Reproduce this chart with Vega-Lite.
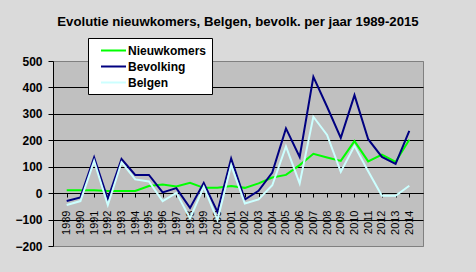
{
  "$schema": "https://vega.github.io/schema/vega-lite/v6.json",
  "width": 370,
  "height": 185,
  "autosize": {"type": "none"},
  "padding": {"left": 53, "top": 61, "right": 53, "bottom": 26},
  "background": "#dadada",
  "title": {
    "text": "Evolutie nieuwkomers, Belgen, bevolk. per jaar 1989-2015",
    "font": "Liberation Sans",
    "fontSize": 13.2,
    "fontWeight": "bold",
    "color": "black",
    "anchor": "middle",
    "frame": "group",
    "offset": 8
  },
  "data": {
    "values": [
      {"jaar": "1989", "Nieuwkomers": 11, "Bevolking": -30, "Belgen": -45},
      {"jaar": "1990", "Nieuwkomers": 11, "Bevolking": -16, "Belgen": -30},
      {"jaar": "1991", "Nieuwkomers": 11, "Bevolking": 135, "Belgen": 122},
      {"jaar": "1992", "Nieuwkomers": 8, "Bevolking": -22, "Belgen": -45},
      {"jaar": "1993", "Nieuwkomers": 8, "Bevolking": 129, "Belgen": 117},
      {"jaar": "1994", "Nieuwkomers": 8, "Bevolking": 69, "Belgen": 52},
      {"jaar": "1995", "Nieuwkomers": 27, "Bevolking": 69, "Belgen": 44},
      {"jaar": "1996", "Nieuwkomers": 33, "Bevolking": 3, "Belgen": -30},
      {"jaar": "1997", "Nieuwkomers": 25, "Bevolking": 19, "Belgen": 1},
      {"jaar": "1998", "Nieuwkomers": 39, "Bevolking": -56, "Belgen": -96},
      {"jaar": "1999", "Nieuwkomers": 20, "Bevolking": 39, "Belgen": 24},
      {"jaar": "2000", "Nieuwkomers": 20, "Bevolking": -71, "Belgen": -102},
      {"jaar": "2001", "Nieuwkomers": 27, "Bevolking": 131, "Belgen": 106},
      {"jaar": "2002", "Nieuwkomers": 20, "Bevolking": -24, "Belgen": -39},
      {"jaar": "2003", "Nieuwkomers": 37, "Bevolking": 9, "Belgen": -24},
      {"jaar": "2004", "Nieuwkomers": 59, "Bevolking": 78, "Belgen": 30},
      {"jaar": "2005", "Nieuwkomers": 69, "Bevolking": 245, "Belgen": 177},
      {"jaar": "2006", "Nieuwkomers": 106, "Bevolking": 137, "Belgen": 37},
      {"jaar": "2007", "Nieuwkomers": 149, "Bevolking": 440, "Belgen": 289},
      {"jaar": "2008", "Nieuwkomers": 135, "Bevolking": 327, "Belgen": 220},
      {"jaar": "2009", "Nieuwkomers": 122, "Bevolking": 209, "Belgen": 81},
      {"jaar": "2010", "Nieuwkomers": 197, "Bevolking": 371, "Belgen": 179},
      {"jaar": "2011", "Nieuwkomers": 120, "Bevolking": 204, "Belgen": 83},
      {"jaar": "2012", "Nieuwkomers": 146, "Bevolking": 137, "Belgen": -10},
      {"jaar": "2013", "Nieuwkomers": 118, "Bevolking": 111, "Belgen": -10},
      {"jaar": "2014", "Nieuwkomers": 202, "Bevolking": 236, "Belgen": 28}
    ]
  },
  "transform": [
    {"fold": ["Nieuwkomers", "Bevolking", "Belgen"], "as": ["reeks", "waarde"]}
  ],
  "mark": {"type": "line", "strokeWidth": 2},
  "encoding": {
    "x": {
      "field": "jaar",
      "type": "ordinal",
      "scale": {"type": "point", "padding": 1},
      "axis": {
        "title": null,
        "offset": -53,
        "labelAngle": -90,
        "labelFont": "Liberation Sans",
        "labelFontSize": 11,
        "labelColor": "black",
        "labelPadding": 13,
        "tickSize": 4,
        "tickColor": "black",
        "domainColor": "black",
        "grid": false
      }
    },
    "y": {
      "field": "waarde",
      "type": "quantitative",
      "scale": {"domain": [-200, 500], "nice": false},
      "axis": {
        "title": null,
        "values": [-200, -100, 0, 100, 200, 300, 400, 500],
        "labelFont": "Liberation Sans",
        "labelFontSize": 12,
        "labelFontWeight": "bold",
        "labelColor": "black",
        "labelPadding": 6,
        "tickSize": 5,
        "tickColor": "black",
        "domainColor": "black",
        "grid": true,
        "gridColor": {"condition": {"test": "datum.value == 500 || datum.value == -200", "value": "#808080"}, "value": "black"},
        "gridOpacity": 1
      }
    },
    "color": {
      "field": "reeks",
      "type": "nominal",
      "scale": {
        "domain": ["Nieuwkomers", "Bevolking", "Belgen"],
        "range": ["#00ff00", "#000080", "#ccffff"]
      },
      "legend": {
        "title": null,
        "orient": "none",
        "legendX": 35,
        "legendY": -23,
        "fillColor": "white",
        "strokeColor": "black",
        "padding": 5,
        "symbolType": "M-2,0L2,0",
        "symbolSize": 156,
        "symbolOffset": 13,
        "symbolStrokeWidth": 2,
        "labelFont": "Liberation Sans",
        "labelFontSize": 12,
        "labelFontWeight": "bold",
        "labelColor": "black",
        "labelOffset": 7,
        "labelLimit": 300,
        "rowPadding": 2
      }
    }
  },
  "config": {
    "view": {"stroke": "#808080", "fill": "#c0c0c0"}
  }
}
